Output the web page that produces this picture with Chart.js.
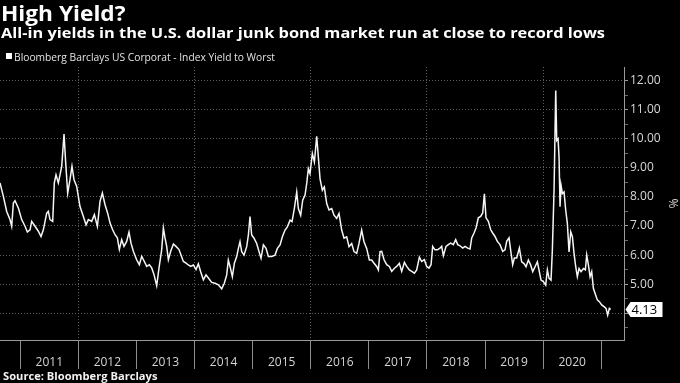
<!DOCTYPE html>
<html>
<head>
<meta charset="utf-8">
<script src="https://cdn.jsdelivr.net/npm/chart.js@4.4.1/dist/chart.umd.min.js"></script>
<style>
  html, body { margin:0; padding:0; background:#000; }
  body { width:680px; height:383px; overflow:hidden; position:relative; }
  canvas { position:absolute; left:0; top:0; }
  .txt { position:absolute; left:0; top:0; white-space:nowrap; line-height:1; font-family:'Open Sans', 'DejaVu Sans', sans-serif; }
  .t { display:inline-block; transform-origin:0 50%; }
  .bl { display:inline-block; width:0; height:0; vertical-align:baseline; }
  #legsq { position:absolute; left:5.5px; top:53px; width:6px; height:6px; background:#fff; }
</style>
</head>
<body>
<canvas id="c" width="680" height="383"></canvas>
<div id="title" class="txt" style="font-size:21px;font-weight:700;color:#fff"><span class="t">High Yield?</span><span class="bl"></span></div>
<div id="subtitle" class="txt" style="font-size:14.5px;font-weight:700;color:#fff"><span class="t">All-in yields in the U.S. dollar junk bond market run at close to record lows</span><span class="bl"></span></div>
<div id="legsq"></div>
<div id="legend" class="txt" style="font-size:11.5px;font-weight:400;color:#e4e4e4"><span class="t">Bloomberg Barclays US Corporat - Index Yield to Worst</span><span class="bl"></span></div>
<div id="source" class="txt" style="font-size:11px;font-weight:700;color:#f2f2f2"><span class="t">Source: Bloomberg Barclays</span><span class="bl"></span></div>
<script>
// ---- data (decimal year, yield to worst %) ----
const years = [
2010.652,2010.710,2010.767,2010.824,2010.853,2010.882,2010.910,2010.968,2011.025,2011.083,
2011.123,2011.169,2011.197,2011.255,2011.312,2011.358,2011.398,2011.456,2011.484,2011.513,
2011.559,2011.587,2011.616,2011.656,2011.685,2011.714,2011.754,2011.783,2011.817,2011.857,
2011.891,2011.926,2011.972,2012.029,2012.087,2012.133,2012.173,2012.230,2012.276,2012.328,
2012.374,2012.414,2012.460,2012.505,2012.546,2012.591,2012.632,2012.672,2012.706,2012.746,
2012.786,2012.832,2012.872,2012.907,2012.947,2013.004,2013.050,2013.091,2013.136,2013.177,
2013.223,2013.263,2013.303,2013.349,2013.389,2013.435,2013.464,2013.492,2013.521,2013.550,
2013.590,2013.636,2013.681,2013.733,2013.808,2013.854,2013.894,2013.934,2013.980,2014.026,
2014.066,2014.106,2014.152,2014.198,2014.255,2014.295,2014.353,2014.410,2014.468,2014.513,
2014.554,2014.582,2014.611,2014.651,2014.686,2014.726,2014.755,2014.783,2014.812,2014.852,
2014.898,2014.927,2014.955,2014.984,2015.024,2015.070,2015.110,2015.145,2015.185,2015.231,
2015.271,2015.328,2015.386,2015.426,2015.472,2015.512,2015.558,2015.598,2015.644,2015.678,
2015.718,2015.759,2015.787,2015.827,2015.862,2015.902,2015.931,2015.959,2015.988,2016.028,
2016.063,2016.103,2016.131,2016.160,2016.200,2016.234,2016.275,2016.315,2016.361,2016.401,
2016.447,2016.487,2016.533,2016.573,2016.619,2016.659,2016.705,2016.745,2016.791,2016.831,
2016.877,2016.917,2016.963,2017.009,2017.049,2017.090,2017.135,2017.164,2017.193,2017.222,
2017.262,2017.308,2017.353,2017.394,2017.440,2017.480,2017.525,2017.566,2017.612,2017.652,
2017.698,2017.738,2017.784,2017.824,2017.870,2017.910,2017.956,2017.996,2018.036,2018.071,
2018.099,2018.139,2018.180,2018.225,2018.254,2018.283,2018.329,2018.369,2018.409,2018.455,
2018.495,2018.530,2018.570,2018.616,2018.656,2018.702,2018.742,2018.771,2018.811,2018.845,
2018.885,2018.925,2018.960,2018.989,2019.017,2019.057,2019.098,2019.132,2019.172,2019.212,
2019.258,2019.304,2019.344,2019.373,2019.413,2019.448,2019.476,2019.505,2019.545,2019.591,
2019.631,2019.671,2019.706,2019.746,2019.786,2019.821,2019.861,2019.901,2019.935,2019.964,
2020.004,2020.044,2020.073,2020.102,2020.136,2020.159,2020.188,2020.217,2020.234,2020.257,
2020.274,2020.291,2020.308,2020.331,2020.360,2020.389,2020.417,2020.446,2020.475,2020.504,
2020.532,2020.561,2020.589,2020.618,2020.653,2020.693,2020.727,2020.750,2020.779,2020.808,
2020.836,2020.865,2020.893,2020.933,2020.968,2021.008,2021.048,2021.083,2021.111,2021.140,
2021.163
];
const yields = [
8.48,8.02,7.50,7.22,6.99,7.79,7.87,7.62,7.22,6.99,
6.79,6.87,7.16,6.99,6.82,6.64,6.87,7.44,7.50,7.22,
7.16,8.48,8.76,8.48,8.76,9.05,10.16,9.16,8.13,8.59,
9.05,8.59,8.36,7.67,7.33,7.04,7.22,7.16,7.39,6.99,
7.85,8.13,7.73,7.44,7.10,6.87,6.70,6.59,6.19,6.53,
6.30,6.47,6.79,6.41,6.13,5.84,5.67,5.96,5.78,5.61,
5.67,5.56,5.33,4.95,5.56,6.19,6.93,6.59,6.30,5.84,
6.13,6.38,6.30,6.19,5.78,5.72,5.66,5.61,5.66,5.50,
5.70,5.43,5.15,5.32,5.17,5.06,5.03,4.98,4.84,5.03,
5.32,5.83,5.61,5.26,5.72,5.95,6.23,6.46,6.12,6.00,
6.29,6.69,7.32,6.69,6.58,6.40,6.12,5.89,6.35,6.23,
5.95,5.95,6.00,6.23,6.35,6.63,6.86,6.97,7.20,7.15,
7.60,8.17,7.60,7.37,7.89,8.06,8.46,8.97,8.80,9.49,
9.20,10.08,9.37,8.63,8.23,8.34,7.77,7.55,7.60,7.37,
7.26,7.43,6.86,6.58,6.63,6.29,6.40,6.12,6.06,6.40,
6.86,6.46,6.23,5.83,5.83,5.72,5.61,5.49,6.12,6.13,
5.84,5.67,5.61,5.44,5.55,5.61,5.72,5.44,5.75,5.61,
5.49,5.44,5.38,5.49,5.93,5.78,5.84,5.61,5.55,5.67,
6.30,6.18,6.18,6.24,6.30,5.98,6.30,6.36,6.41,6.36,
6.53,6.36,6.32,6.24,6.30,6.24,6.21,6.59,6.76,6.93,
7.28,7.33,7.45,8.11,7.28,7.16,6.87,6.76,6.64,6.47,
6.36,6.13,6.18,6.47,6.59,6.07,5.67,5.90,5.90,6.24,
5.77,5.71,5.60,5.83,5.66,5.43,5.60,5.77,5.43,5.14,
5.09,4.97,5.49,5.20,5.14,6.17,8.23,11.66,9.94,10.00,
9.37,7.66,8.40,8.11,8.17,7.54,7.09,6.11,6.80,6.63,
6.06,5.60,5.26,5.54,5.43,5.54,5.49,6.00,5.66,5.26,
5.43,4.86,4.69,4.46,4.40,4.29,4.23,4.17,3.94,4.17,
4.13
];
const yearLabels = ['2011','2012','2013','2014','2015','2016','2017','2018','2019','2020'];
const yearBoundaries = [2011,2012,2013,2014,2015,2016,2017,2018,2019,2020,2021];
const yTickValues = [4,5,6,7,8,9,10,11,12];
const seriesName = 'Bloomberg Barclays US Corporat - Index Yield to Worst';

// ---- layout helpers for HTML text ----
function place(id, left, baseline, width) {
  const el = document.getElementById(id);
  const t = el.querySelector('.t');
  const bl = el.querySelector('.bl');
  el.style.left = left + 'px';
  el.style.top = '0px';
  const w = t.getBoundingClientRect().width;
  const b = bl.getBoundingClientRect().top;
  el.style.top = (baseline - b) + 'px';
  if (width && w > 0) t.style.transform = 'scaleX(' + (width / w) + ')';
}

function build() {
  place('title', 1.2, 20.7, 124.5);
  place('subtitle', 0.8, 37.9, 604);
  place('legend', 14, 61, 261);
  place('source', 2.7, 380, 154.5);

  const X_MIN = 2010.652, X_MAX = 2021.392;
  const Y_MIN = 3.082, Y_MAX = 12.464;

  const xTicks = [];
  yearBoundaries.forEach(v => xTicks.push(v));
  yearLabels.forEach(l => xTicks.push(Number(l) + 0.5));
  xTicks.sort((a, b) => a - b);
  const labelMap = {};
  yearLabels.forEach(l => { labelMap[(Number(l) + 0.5).toFixed(1)] = l; });

  const yTicks = [];
  yTickValues.forEach(v => { yTicks.push(v); yTicks.push(v - 0.5); });
  yTicks.sort((a, b) => a - b);

  const lastValue = yields[yields.length - 1];

  const lastLabelPlugin = {
    id: 'lastLabel',
    afterDraw(chart) {
      const ys = chart.scales.y;
      const ctx = chart.ctx;
      const y = ys.getPixelForValue(lastValue);
      const x0 = ys.left + 1.5;
      ctx.save();
      ctx.fillStyle = '#ffffff';
      ctx.beginPath();
      ctx.moveTo(x0, y);
      ctx.lineTo(x0 + 5, y - 7.5);
      ctx.lineTo(x0 + 37, y - 7.5);
      ctx.lineTo(x0 + 37, y + 7.5);
      ctx.lineTo(x0 + 5, y + 7.5);
      ctx.closePath();
      ctx.fill();
      ctx.fillStyle = '#000';
      ctx.font = '13px "Open Sans", sans-serif';
      ctx.textBaseline = 'middle';
      ctx.textAlign = 'left';
      ctx.fillText(lastValue.toFixed(2), x0 + 6, y + 0.5);
      ctx.restore();
    }
  };

  new Chart(document.getElementById('c'), {
    type: 'line',
    data: {
      datasets: [{
        label: seriesName,
        data: years.map((x, i) => ({ x: x, y: yields[i] })),
        borderColor: '#f6f6f6',
        borderWidth: 1.5,
        pointRadius: 0,
        tension: 0,
        fill: false
      }]
    },
    options: {
      responsive: false,
      animation: false,
      devicePixelRatio: 1,
      layout: { padding: { top: 67, left: 0, right: 0, bottom: 0 } },
      plugins: { legend: { display: false }, tooltip: { enabled: false }, title: { display: false } },
      scales: {
        x: {
          type: 'linear',
          position: 'bottom',
          min: X_MIN, max: X_MAX,
          afterBuildTicks: s => { s.ticks = xTicks.map(v => ({ value: v })); },
          afterFit: s => { s.height = 43; },
          ticks: {
            autoSkip: false, maxRotation: 0, minRotation: 0,
            padding: -14,
            color: '#d4d4d4',
            font: { family: 'Open Sans', size: 12 },
            callback: v => labelMap[Number(v).toFixed(1)] || ''
          },
          grid: {
            drawOnChartArea: true,
            lineWidth: 1,
            tickLength: 29,
            color: c => (c.tick && Number.isInteger(c.tick.value) && c.tick.value % 2 === 0) ? '#5e5e5e' : 'rgba(0,0,0,0)',
            tickColor: c => (c.tick && Number.isInteger(c.tick.value)) ? '#8c8c8c' : 'rgba(0,0,0,0)'
          },
          border: { display: true, color: '#9a9a9a', width: 1, dash: [1, 2] }
        },
        y: {
          type: 'linear',
          position: 'right',
          min: Y_MIN, max: Y_MAX,
          afterBuildTicks: s => { s.ticks = yTicks.map(v => ({ value: v })); },
          afterFit: s => { s.width = 56; },
          ticks: {
            autoSkip: false,
            padding: 2,
            color: '#d8d8d8',
            font: { family: 'Open Sans', size: 12 },
            callback: v => Number.isInteger(v) ? Number(v).toFixed(2) : ''
          },
          grid: {
            lineWidth: 1,
            tickLength: 4,
            color: c => (c.tick && Number.isInteger(c.tick.value)) ? '#5e5e5e' : 'rgba(0,0,0,0)',
            tickColor: c => (c.tick && Number.isInteger(c.tick.value)) ? '#9a9a9a' : '#6a6a6a'
          },
          border: { display: true, color: '#9a9a9a', width: 1, dash: [1, 2] },
          title: { display: true, text: '%', color: '#d8d8d8', font: { family: 'Open Sans', size: 12 }, padding: 0 }
        }
      }
    },
    plugins: [lastLabelPlugin]
  });
}

if (document.fonts && document.fonts.ready) {
  document.fonts.ready.then(build);
} else {
  window.addEventListener('load', build);
}
</script>
</body>
</html>
